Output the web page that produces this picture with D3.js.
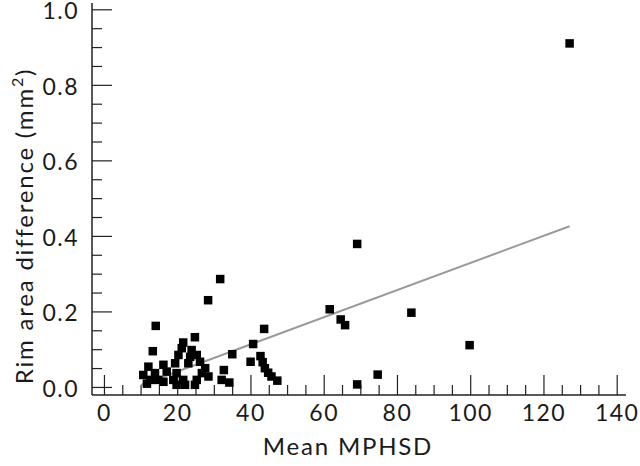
<!DOCTYPE html>
<html>
<head>
<meta charset="utf-8">
<script src="https://cdn.jsdelivr.net/npm/d3@7"></script>
<style>
  html, body { margin: 0; padding: 0; background: #fff; }
  svg text { font-family: Lato, "Open Sans", sans-serif; fill: #1a1a1a; }
</style>
</head>
<body>
<svg id="chart" width="640" height="466"></svg>
<script>
// mean MPHSD (x) and rim area difference in mm^2 (y)
const mphsd = [
  127, 69, 61.5, 64.5, 65.7, 83.8, 99.7, 74.6, 69,
  31.6, 28.3, 43.6, 40.6, 34.9, 42.6, 39.9, 43.2, 43.8, 44.7, 45.6, 47.2,
  32.6, 32, 34.1,
  14, 13.2, 24.7, 21.5, 21.1, 23.8, 20.2, 23.4, 25.2,
  12, 16.1, 19.3, 22.9, 26.1, 10.6, 13.8, 17, 19.7,
  12.5, 14.7, 18.8, 21.5, 19.7, 22, 25.2, 26.6, 24.7, 27.5, 28.4, 11.6, 16.1
];
const rimDiff = [
  0.911, 0.38, 0.207, 0.180, 0.165, 0.198, 0.112, 0.034, 0.008,
  0.287, 0.231, 0.155, 0.115, 0.088, 0.083, 0.068, 0.067, 0.051, 0.039, 0.029, 0.018,
  0.046, 0.020, 0.013,
  0.163, 0.096, 0.133, 0.119, 0.104, 0.099, 0.086, 0.081, 0.086,
  0.055, 0.060, 0.064, 0.064, 0.068, 0.033, 0.038, 0.042, 0.038,
  0.020, 0.020, 0.020, 0.020, 0.007, 0.007, 0.020, 0.038, 0.007, 0.051, 0.029, 0.010, 0.015
];
// regression line end points
const fitX = [10, 127];
const fitY = [0.0066, 0.427];

const xMajor = [0, 20, 40, 60, 80, 100, 120, 140];
const yMajor = [0.0, 0.2, 0.4, 0.6, 0.8, 1.0];

const svg = d3.select('#chart');
const x = d3.scaleLinear().domain([-3.4, 142.4]).range([92, 626]);
const y = d3.scaleLinear().domain([-0.02, 1.0]).range([395, 9.8]);

const points = mphsd.map((v, i) => ({ x: v, y: rimDiff[i] }));

// axes: ticks point inward, long majors, short minors
const xAxis = svg.append('g').attr('transform', 'translate(0,395)');
xAxis.append('line').attr('x1', 92).attr('x2', 626).attr('stroke', '#222').attr('stroke-width', 1.5);
xAxis.selectAll('line.tick')
  .data(d3.range(0, 141, 5))
  .join('line')
  .attr('class', 'tick')
  .attr('x1', d => x(d)).attr('x2', d => x(d))
  .attr('y1', 0).attr('y2', d => d % 20 === 0 ? -20 : -10)
  .attr('stroke', '#222').attr('stroke-width', 1.2);
xAxis.selectAll('text')
  .data(xMajor)
  .join('text')
  .attr('x', d => x(d)).attr('y', 26)
  .attr('text-anchor', 'middle')
  .attr('font-size', 23)
  .attr('letter-spacing', 1.5)
  .text(d => d);

const yAxis = svg.append('g').attr('transform', 'translate(92,0)');
yAxis.append('line').attr('y1', 395).attr('y2', 3).attr('stroke', '#222').attr('stroke-width', 1.5);
yAxis.selectAll('line.tick')
  .data(d3.range(0, 21).map(i => i * 0.05))
  .join('line')
  .attr('class', 'tick')
  .attr('y1', d => y(d)).attr('y2', d => y(d))
  .attr('x1', 0).attr('x2', (d, i) => i % 4 === 0 ? 20 : 10)
  .attr('stroke', '#222').attr('stroke-width', 1.2);
yAxis.selectAll('text')
  .data(yMajor)
  .join('text')
  .attr('x', -13).attr('y', d => y(d))
  .attr('dy', '0.4em')
  .attr('text-anchor', 'end')
  .attr('font-size', 23)
  .attr('letter-spacing', 1.5)
  .text(d => d.toFixed(1));

// titles
svg.append('text')
  .attr('x', 348).attr('y', 455)
  .attr('text-anchor', 'middle')
  .attr('font-size', 24)
  .attr('letter-spacing', 1.8)
  .text('Mean MPHSD');

const yTitle = svg.append('text')
  .attr('transform', 'translate(33,226) rotate(-90)')
  .attr('text-anchor', 'middle')
  .attr('font-size', 24)
  .attr('letter-spacing', 1.8);
yTitle.append('tspan').text('Rim area difference (mm');
yTitle.append('tspan').attr('dy', -10).attr('font-size', 16).text('2');
yTitle.append('tspan').attr('dy', 10).text(')');

// fit line
svg.append('line')
  .attr('x1', x(fitX[0])).attr('y1', y(fitY[0]))
  .attr('x2', x(fitX[1])).attr('y2', y(fitY[1]))
  .attr('stroke', '#9a9a9a').attr('stroke-width', 2);

// square markers
const s = 8.5;
svg.append('g').selectAll('rect')
  .data(points)
  .join('rect')
  .attr('x', d => x(d.x) - s / 2)
  .attr('y', d => y(d.y) - s / 2)
  .attr('width', s).attr('height', s)
  .attr('fill', '#000');
</script>
</body>
</html>
